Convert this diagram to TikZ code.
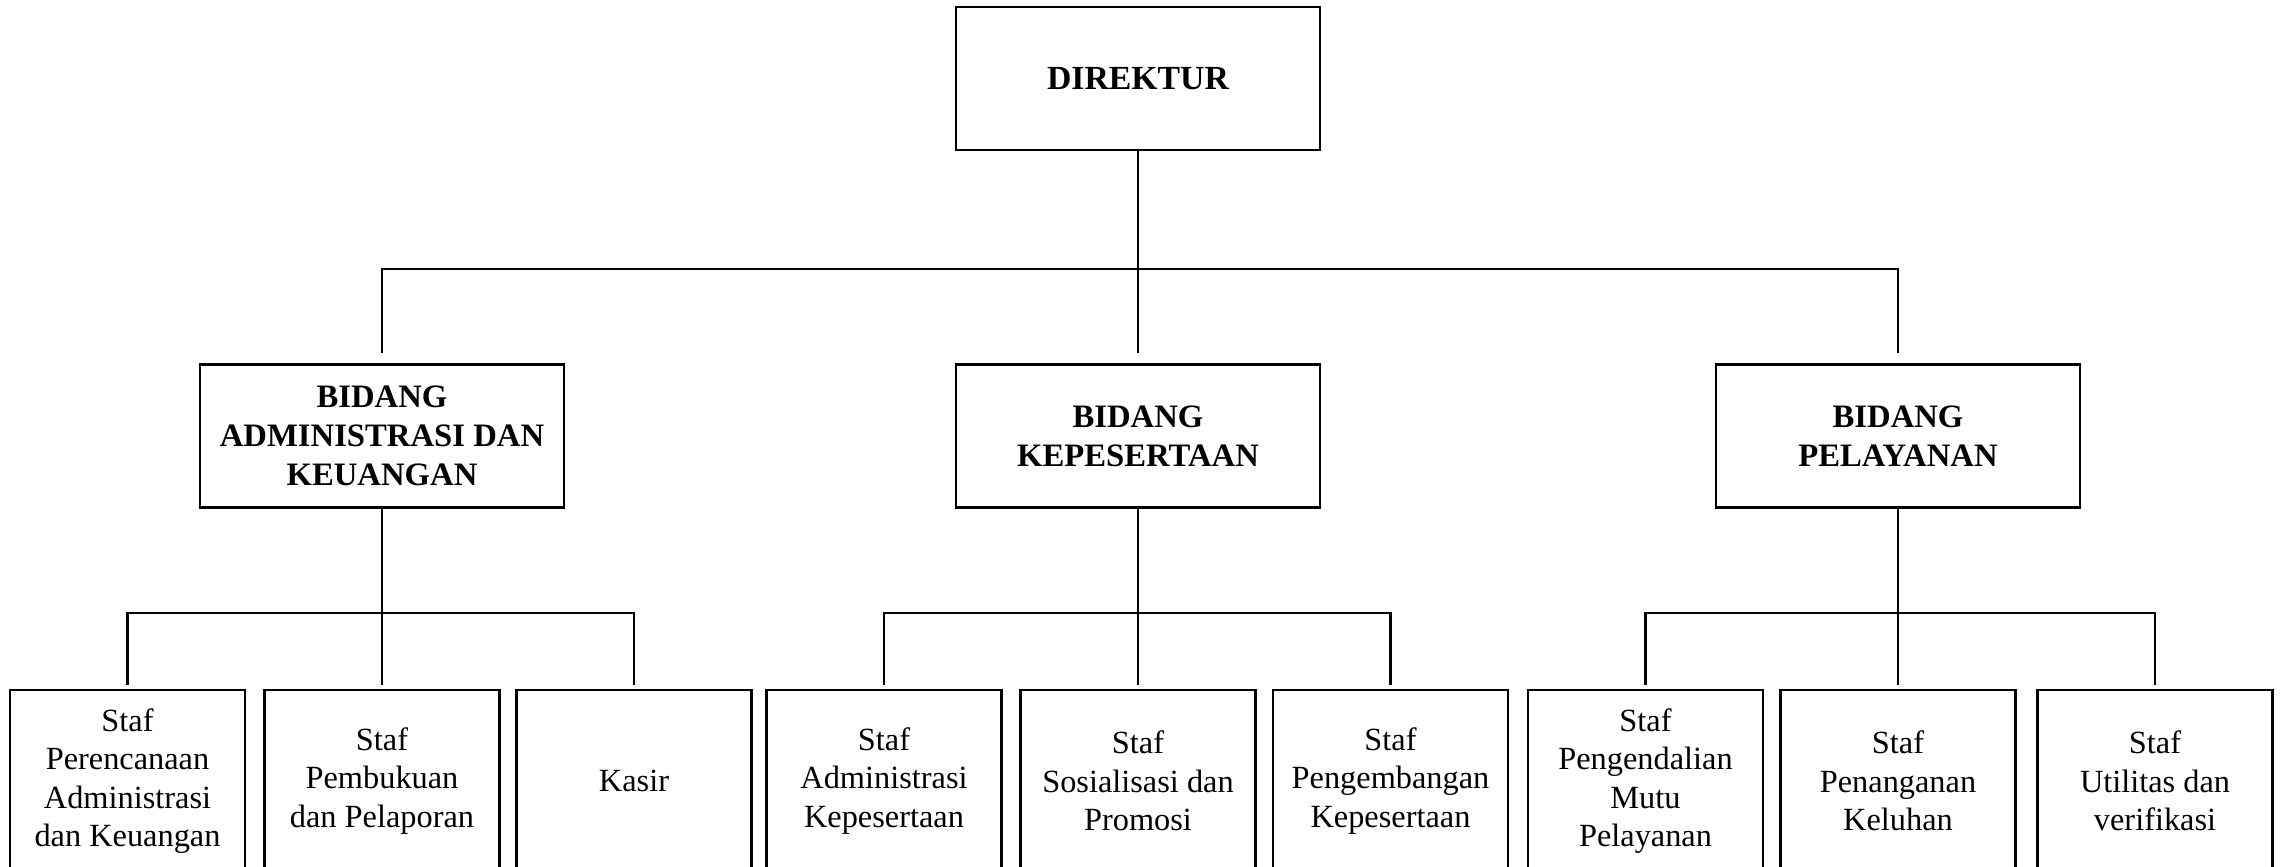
\documentclass[tikz,border=0pt]{standalone}
\usepackage{fontspec}
\setmainfont{Liberation Serif}
\usepackage{tikz}
\usetikzlibrary{calc,positioning}
\tikzset{
  ln/.style={line width=0.6pt,black},
  headbox/.style={draw,line width=0.7pt,minimum width=3.64cm,minimum height=1.43cm,align=center,inner sep=2pt,font=\bfseries\fontsize{9.3}{11}\selectfont},
  stafbox/.style={draw,line width=0.7pt,minimum width=2.35cm,minimum height=1.82cm,align=center,inner sep=2pt,font=\fontsize{9.2}{10.9}\selectfont}
}
\begin{document}
\begin{tikzpicture}[x=0.01cm,y=-0.01cm]
\useasboundingbox (0,0) rectangle (2282,866);
% pimpinan dan bidang
\node[headbox] (dir) at (1138,78.5) {\fontsize{9.6}{11}\selectfont DIREKTUR};
\node[headbox] (bak) at (382,436) {BIDANG\\ADMINISTRASI DAN\\KEUANGAN};
\node[headbox] (kep) at (1138,436) {BIDANG\\KEPESERTAAN};
\node[headbox] (pel) at (1898,436) {BIDANG\\PELAYANAN};
% staf
\node[stafbox] (s1) at (127.5,781) {Staf\\Perencanaan\\Administrasi\\dan Keuangan};
\node[stafbox] (s2) at (382,781) {Staf\\Pembukuan\\dan Pelaporan};
\node[stafbox] (s3) at (634,781) {Kasir};
\node[stafbox] (s4) at (884,781) {Staf\\Administrasi\\Kepesertaan};
\node[stafbox] (s5) at (1138,781) {Staf\\Sosialisasi dan\\Promosi};
\node[stafbox] (s6) at (1390.5,781) {Staf\\Pengembangan\\Kepesertaan};
\node[stafbox] (s7) at (1645.5,781) {Staf\\Pengendalian\\Mutu\\Pelayanan};
\node[stafbox] (s8) at (1898,781) {Staf\\Penanganan\\Keluhan};
\node[stafbox] (s9) at (2155,781) {Staf\\Utilitas dan\\verifikasi};
% garis
\coordinate (bus0) at (1138,269);
\coordinate (busA) at (382,613);
\coordinate (busB) at (1138,613);
\coordinate (busC) at (1898,613);
\draw[ln] (dir.south) -- (bus0);
\draw[ln,shorten >=1mm] (bus0) -| (bak.north);
\draw[ln,shorten >=1mm] (bus0) -- (kep.north);
\draw[ln,shorten >=1mm] (bus0) -| (pel.north);
\draw[ln] (bak.south) -- (busA);
\draw[ln] (kep.south) -- (busB);
\draw[ln] (pel.south) -- (busC);
\foreach \b/\l/\m/\r in {busA/s1/s2/s3,busB/s4/s5/s6,busC/s7/s8/s9}{
  \draw[ln,shorten >=0.4mm] (\b) -| (\l.north);
  \draw[ln,shorten >=0.4mm] (\b) -- (\m.north);
  \draw[ln,shorten >=0.4mm] (\b) -| (\r.north);
}
\end{tikzpicture}
\end{document}
